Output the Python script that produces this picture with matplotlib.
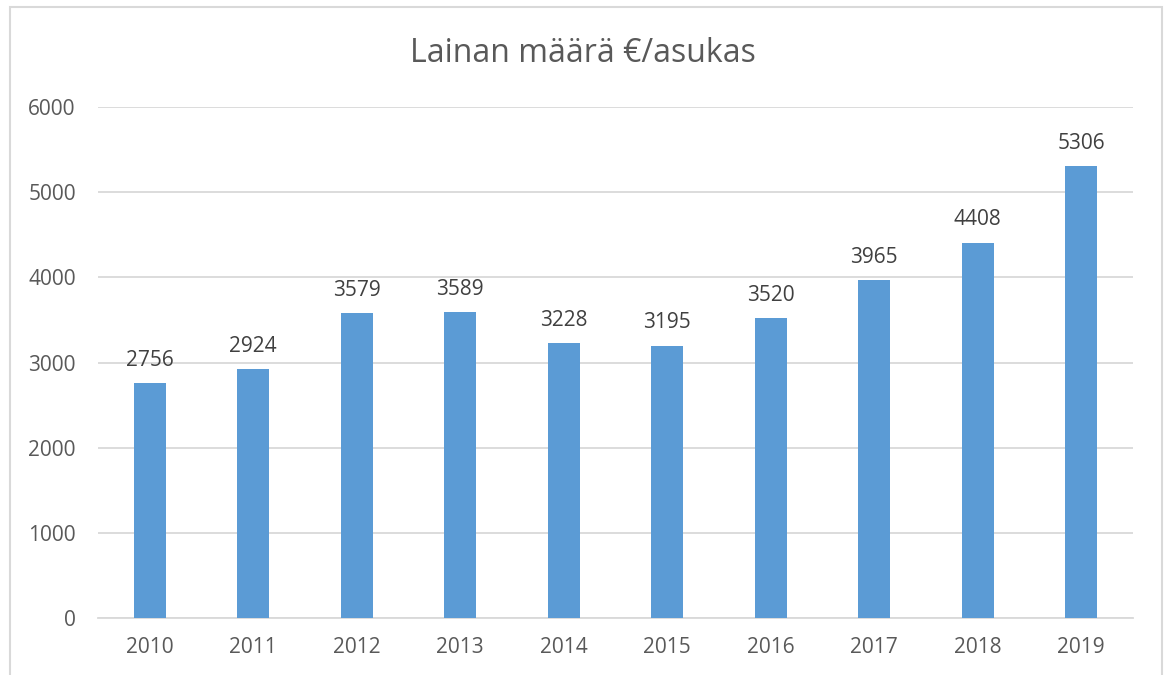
import matplotlib.pyplot as plt
from matplotlib.patches import Rectangle

# Data
years = ['2010', '2011', '2012', '2013', '2014', '2015', '2016', '2017', '2018', '2019']
loan_per_resident = [2756, 2924, 3579, 3589, 3228, 3195, 3520, 3965, 4408, 5306]
yticks = [0, 1000, 2000, 3000, 4000, 5000, 6000]

plt.rcParams['font.family'] = ['Open Sans', 'DejaVu Sans']
text_color = '#595959'
grid_color = '#d9d9d9'

fig = plt.figure(figsize=(11.65, 6.75), dpi=100)
ax = fig.add_axes([0.0841, 0.0844, 0.8884, 0.757])

# Chart border
fig.patches.append(Rectangle((0.0086, -0.02), 0.989, 1.0096, transform=fig.transFigure,
                             fill=False, edgecolor=grid_color, linewidth=1.5))

bars = ax.bar(years, loan_per_resident, width=0.31, color='#5B9BD5', zorder=3)

# Value labels
for bar, v in zip(bars, loan_per_resident):
    ax.annotate(str(v), (bar.get_x() + bar.get_width() / 2, v),
                xytext=(0, 9), textcoords='offset points',
                ha='center', va='bottom', fontsize=15, color='#404040')

ax.set_ylim(0, 6000)
ax.set_xlim(-0.5, len(years) - 0.5)
ax.set_yticks(yticks)
ax.yaxis.grid(True, color=grid_color, linewidth=1.3, zorder=0)
ax.set_axisbelow(True)

for side in ['top', 'right', 'left']:
    ax.spines[side].set_visible(False)
ax.spines['bottom'].set_color(grid_color)
ax.spines['bottom'].set_linewidth(1.3)

ax.tick_params(axis='both', length=0, labelsize=15, colors=text_color)
ax.tick_params(axis='y', pad=16)
ax.tick_params(axis='x', pad=14)

fig.text(0.5, 0.92, 'Lainan määrä €/asukas', ha='center', va='center',
         fontsize=23, color=text_color)

fig.savefig('out.png', dpi=100)
